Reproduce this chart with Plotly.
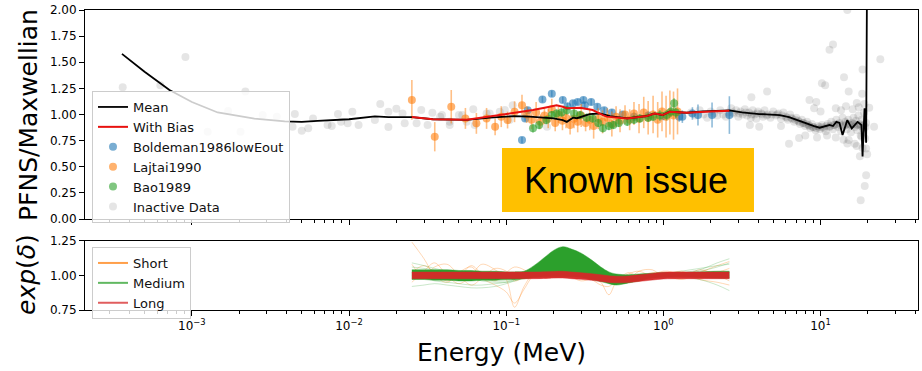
import plotly.graph_objects as go

# ---------------- data ----------------
# Mean curve (E in MeV, PFNS/Maxwellian)
mean_pts = [(3.59e-4, 1.58), (5.0e-4, 1.41), (7.2e-4, 1.234), (1.0e-3, 1.12), (1.46e-3, 1.02),
            (2.5e-3, 0.96), (3.9e-3, 0.935), (5.0e-3, 0.93), (6.3e-3, 0.94), (0.01, 0.955),
            (0.0146, 0.983), (0.0178, 0.975), (0.0226, 0.976), (0.0251, 0.976), (0.0341, 0.955),
            (0.0562, 0.95), (0.079, 0.97), (0.112, 0.985), (0.141, 0.98), (0.2, 0.963),
            (0.229, 0.947), (0.243, 0.93), (0.266, 0.97), (0.282, 0.965), (0.339, 1.005),
            (0.394, 1.01), (0.457, 0.985), (0.589, 0.963), (0.785, 0.986), (0.881, 1.01),
            (0.989, 0.995), (1.096, 1.027), (1.406, 1.017), (1.78, 1.03), (2.63, 1.04),
            (3.16, 1.02), (4.07, 1.005), (5.5, 0.995), (6.3, 0.975), (7.08, 0.947),
            (8.5, 0.90), (9.1, 0.89), (9.86, 0.874), (10.5, 0.885), (11.4, 0.90),
            (12.0, 0.89), (12.6, 0.93), (13.2, 0.92), (13.8, 0.804), (14.8, 0.947),
            (15.8, 0.868), (17.2, 0.93), (18.2, 0.90), (18.5, 0.60), (19.05, 1.06),
            (19.5, 0.73), (19.95, 3.5)]

bias_pts = [(0.0251, 0.976), (0.0341, 0.954), (0.0562, 0.95), (0.0912, 0.995), (0.112, 1.01),
            (0.148, 1.043), (0.182, 1.07), (0.209, 1.088), (0.229, 1.075), (0.243, 1.06),
            (0.295, 1.065), (0.355, 1.043), (0.412, 0.995), (0.436, 0.98), (0.589, 0.963),
            (0.785, 0.986), (0.881, 1.01), (0.989, 0.995), (1.096, 1.027), (1.406, 1.017),
            (2.0, 1.03), (2.63, 1.036)]

# Experimental data: (E, value, error)
boldeman = [(0.126, 0.756, 0.03), (0.132, 0.963, 0.03), (0.137, 1.04, 0.03), (0.17, 1.145, 0.03),
            (0.195, 1.20, 0.03), (0.229, 1.14, 0.03), (0.245, 1.08, 0.03), (0.266, 1.107, 0.03),
            (0.285, 1.12, 0.03), (0.31, 1.14, 0.03), (0.316, 1.09, 0.03), (0.347, 1.12, 0.03),
            (0.38, 1.075, 0.03), (0.42, 1.04, 0.03), (0.47, 1.02, 0.03), (0.55, 1.00, 0.03),
            (0.65, 0.98, 0.04), (0.80, 0.99, 0.04), (1.0, 0.985, 0.04), (1.26, 0.98, 0.05),
            (1.32, 0.98, 0.06), (1.53, 1.01, 0.06), (1.66, 0.995, 0.10), (2.04, 0.995, 0.12),
            (2.63, 0.995, 0.18)]

lajtai = [(0.0251, 1.14, 0.19), (0.0351, 0.788, 0.14), (0.0447, 1.075, 0.16), (0.055, 0.963, 0.10),
          (0.0646, 0.916, 0.10), (0.075, 0.963, 0.10), (0.085, 0.883, 0.08), (0.093, 0.98, 0.10),
          (0.102, 0.947, 0.08), (0.113, 1.027, 0.10), (0.126, 1.09, 0.10), (0.135, 1.00, 0.08),
          (0.145, 0.95, 0.09), (0.155, 1.02, 0.10), (0.165, 0.93, 0.07), (0.175, 0.99, 0.08),
          (0.185, 0.96, 0.09), (0.195, 1.05, 0.10), (0.205, 0.92, 0.08), (0.215, 1.00, 0.08),
          (0.228, 0.94, 0.09), (0.24, 0.97, 0.10), (0.255, 0.90, 0.09), (0.27, 0.96, 0.09),
          (0.285, 0.93, 0.10), (0.30, 0.99, 0.11), (0.32, 0.92, 0.08), (0.34, 0.95, 0.10),
          (0.36, 0.89, 0.12), (0.385, 0.96, 0.10), (0.41, 0.93, 0.11), (0.44, 0.97, 0.09),
          (0.47, 0.91, 0.12), (0.50, 0.98, 0.10), (0.53, 0.94, 0.11), (0.57, 1.00, 0.09),
          (0.61, 0.95, 0.10), (0.65, 1.01, 0.11), (0.70, 0.96, 0.14), (0.75, 1.02, 0.15),
          (0.80, 0.97, 0.16), (0.86, 1.00, 0.18), (0.92, 0.95, 0.17), (0.98, 1.03, 0.19),
          (1.04, 0.98, 0.20), (1.10, 1.02, 0.21), (1.16, 0.99, 0.23), (1.23, 1.03, 0.22)]

bao = [(0.148, 0.868, 0.04), (0.162, 0.90, 0.04), (0.18, 0.947, 0.04), (0.195, 0.995, 0.04),
       (0.209, 1.01, 0.04), (0.225, 1.02, 0.04), (0.243, 1.04, 0.04), (0.27, 1.01, 0.04),
       (0.295, 0.995, 0.04), (0.325, 0.97, 0.04), (0.355, 0.963, 0.04), (0.385, 0.92, 0.04),
       (0.412, 0.868, 0.04), (0.45, 0.89, 0.04), (0.48, 0.90, 0.04), (0.52, 0.92, 0.04),
       (0.589, 0.93, 0.04), (0.65, 0.95, 0.04), (0.708, 0.963, 0.04), (0.80, 0.97, 0.04),
       (0.86, 0.98, 0.04), (0.95, 0.99, 0.05), (1.05, 0.995, 0.05), (1.12, 1.03, 0.05),
       (1.17, 1.107, 0.05), (1.2, 1.02, 0.05)]

inactive = [(3.63e-4, 1.26), (6.3e-4, 1.28), (9.1e-4, 1.55), (1.26e-3, 0.835), (1.70e-3, 1.035),
            (1.82e-3, 0.71), (2.04e-3, 0.835), (2.19e-3, 1.22), (2.82e-3, 0.995), (3.47e-3, 0.98),
            (4.52e-3, 1.005), (4.37e-3, 0.883), (5.0e-3, 0.845), (5.5e-3, 0.868), (5.9e-3, 0.963),
            (7.3e-3, 0.90), (7.76e-3, 0.89), (8.5e-3, 1.005), (8.9e-3, 0.93), (9.8e-3, 0.916),
            (0.0105, 1.027), (0.0115, 0.90), (0.0146, 0.947), (0.0158, 1.10), (0.0178, 1.027),
            (0.0178, 0.88), (0.020, 1.055), (0.0219, 1.01), (0.0226, 0.916), (0.0269, 0.916),
            (0.0288, 1.043), (0.0316, 0.90), (0.0339, 1.017), (0.038, 0.98), (0.039, 0.995),
            (0.0437, 0.90), (0.0437, 0.93), (0.050, 0.995), (0.0525, 0.995), (0.056, 0.93),
            (0.0617, 1.05), (0.063, 0.90), (0.075, 1.01), (0.0785, 1.01), (0.091, 1.027),
            (0.098, 1.043), (0.105, 0.947), (0.11, 1.09), (0.182, 0.883),
            (1.5, 1.02), (1.6, 0.99), (1.7, 1.04), (1.8, 1.0), (1.9, 0.97), (2.0, 1.03),
            (2.1, 1.01), (2.2, 0.99), (2.3, 1.04), (2.4, 1.0), (2.5, 0.98), (2.6, 1.02),
            (2.7, 1.06), (2.8, 1.01), (2.9, 1.04), (3.0, 0.98), (3.1, 1.03), (3.2, 1.00),
            (3.3, 1.05), (3.4, 0.99), (3.5, 1.02), (3.6, 0.97), (3.7, 1.04), (3.8, 1.00),
            (3.9, 0.96), (4.0, 1.03), (4.2, 1.01), (4.3, 0.98), (4.4, 1.04), (4.6, 1.00),
            (4.8, 0.97), (5.0, 1.03), (5.2, 0.99), (5.4, 1.01), (5.6, 0.96), (5.8, 1.02),
            (6.0, 0.98), (6.2, 0.95), (6.4, 1.00), (6.6, 0.96), (6.8, 0.93), (7.0, 0.97),
            (7.2, 0.94), (7.4, 0.91), (7.6, 0.95), (7.8, 0.92), (8.0, 0.89), (8.2, 0.93),
            (8.4, 0.90), (8.6, 0.87), (8.8, 0.91), (9.0, 0.88), (9.3, 0.85), (9.6, 0.89),
            (9.9, 0.86), (10.2, 0.90), (10.5, 0.87), (10.8, 0.84), (11.1, 0.91), (11.4, 0.88),
            (11.7, 0.93), (12.0, 0.86), (12.3, 0.90), (12.6, 0.95), (12.9, 0.88), (13.2, 0.92),
            (13.5, 0.84), (13.8, 0.97), (14.1, 0.89), (14.4, 0.93), (14.7, 0.86), (15.0, 0.95),
            (15.3, 0.90), (15.6, 0.83), (15.9, 0.92), (16.2, 0.97), (16.5, 0.88), (16.8, 0.94),
            (17.1, 0.85), (17.4, 0.99), (17.7, 0.91), (18.0, 0.80), (18.3, 0.95), (18.6, 0.87),
            (18.9, 1.02), (19.2, 0.77), (19.5, 0.92),
            (2.75, 1.02), (3.05, 1.01), (3.35, 1.02), (3.65, 1.00), (3.95, 1.01), (4.25, 1.00),
            (4.55, 0.99), (4.9, 1.00), (5.3, 1.00), (5.7, 0.99), (6.1, 0.97), (6.5, 0.97),
            (6.9, 0.95), (7.3, 0.93), (7.7, 0.92), (8.1, 0.91), (8.5, 0.89), (8.9, 0.88),
            (9.4, 0.87), (9.8, 0.88), (10.3, 0.88), (10.9, 0.89), (11.5, 0.89), (12.1, 0.90),
            (12.7, 0.91), (13.3, 0.90), (13.9, 0.90), (14.5, 0.90), (15.1, 0.91), (15.7, 0.90),
            (16.3, 0.91), (16.9, 0.90), (17.5, 0.90), (18.1, 0.89), (18.7, 0.90), (19.3, 0.88),
            (3.63, 1.165), (4.07, 0.883), (3.55, 0.90), (4.57, 1.22), (5.6, 0.89), (6.3, 0.72),
            (7.3, 0.775), (8.5, 1.14), (9.4, 1.12), (10.2, 1.30), (10.7, 1.28), (11.4, 1.62),
            (12.0, 1.67), (14.1, 1.356), (14.8, 2.0), (15.1, 1.22), (15.1, 0.756), (14.8, 0.724),
            (17.0, 1.11), (17.0, 0.70), (18.4, 1.20), (18.5, 1.43), (17.8, 0.60), (19.5, 0.42),
            (19.1, 0.316), (18.0, 0.18), (19.5, 0.676), (18.2, 0.788), (20.4, 1.065),
            (21.9, 0.883), (24.0, 1.53),
            (9.1, 1.06), (10.0, 1.03), (12.5, 1.06), (13.5, 1.04), (14.5, 1.08), (16.0, 1.05),
            (17.5, 1.07), (19.0, 1.10), (8.0, 0.80), (9.5, 0.78), (11.0, 0.80), (12.5, 0.78),
            (14.0, 0.76), (16.5, 0.72), (18.5, 0.68), (19.8, 0.62)]

# Lower panel: exp(delta) samples on a common energy grid
band_E = [0.0251, 0.03, 0.035, 0.042, 0.05, 0.06, 0.07, 0.085, 0.1, 0.113, 0.13, 0.15, 0.18, 0.2,
          0.229, 0.26, 0.3, 0.35, 0.4, 0.45, 0.5, 0.6, 0.7, 0.85, 1.0, 1.3, 1.7, 2.2, 2.63]
medium_upper = [1.04, 1.04, 1.04, 1.04, 1.035, 1.035, 1.03, 1.03, 1.025, 1.025, 1.03, 1.07, 1.14,
                1.18, 1.207, 1.19, 1.16, 1.11, 1.06, 1.025, 1.01, 1.005, 1.01, 1.015, 1.02, 1.02,
                1.025, 1.03, 1.03]
medium_lower = [0.97, 0.97, 0.965, 0.965, 0.96, 0.96, 0.965, 0.965, 0.97, 0.97, 0.975, 0.985,
                0.99, 0.99, 0.99, 0.99, 0.985, 0.97, 0.955, 0.94, 0.93, 0.945, 0.96, 0.98, 0.985,
                0.99, 0.985, 0.98, 0.98]
long_upper = [1.024] * 12 + [1.026, 1.028, 1.029, 1.024, 1.019, 1.012, 1.004, 0.997, 0.994,
                             0.996, 1.004, 1.014, 1.022, 1.024, 1.024, 1.024, 1.024]
long_lower = [0.976] * 12 + [0.978, 0.980, 0.981, 0.976, 0.971, 0.964, 0.956, 0.949, 0.946,
                             0.948, 0.956, 0.966, 0.974, 0.976, 0.976, 0.976, 0.976]
short_lines = [
    [1.24, 1.12, 1.00, 0.95, 1.02, 1.06, 0.98, 0.93, 0.88, 0.80, 0.90, 1.00, 1.02, 1.01, 1.02,
     1.05, 1.0, 0.97, 0.93, 0.92, 0.96, 1.01, 1.03, 0.99, 1.0, 1.03, 0.98, 1.02, 1.05],
    [1.08, 0.99, 1.06, 1.08, 1.0, 0.93, 0.98, 1.05, 1.03, 0.96, 0.99, 1.02, 0.99, 1.0, 1.03,
     0.99, 0.96, 0.98, 1.02, 0.99, 0.94, 0.97, 1.03, 1.04, 0.99, 0.98, 1.04, 1.00, 0.96],
    [0.95, 1.03, 1.09, 1.0, 0.94, 1.0, 1.08, 1.04, 0.97, 0.77, 0.92, 1.01, 0.98, 0.99, 1.01,
     1.03, 1.01, 0.99, 0.95, 0.86, 0.95, 1.02, 0.99, 1.02, 1.01, 0.97, 1.02, 1.07, 1.10],
    [1.02, 1.07, 1.02, 0.96, 0.99, 1.07, 1.01, 0.96, 1.02, 1.06, 1.04, 0.99, 1.0, 1.01, 0.99,
     1.0, 1.02, 1.05, 1.01, 0.98, 1.0, 0.98, 0.96, 1.0, 1.03, 1.01, 0.97, 0.95, 0.93],
]
medium_lines = [
    [0.92, 0.93, 0.94, 0.93, 0.92, 0.91, 0.91, 0.92, 0.94, 0.96, 0.99, 1.03, 1.08, 1.12, 1.15,
     1.13, 1.09, 1.04, 0.99, 0.96, 0.95, 0.96, 0.97, 0.99, 1.0, 1.01, 1.03, 1.06, 1.09],
    [1.06, 1.05, 1.04, 1.02, 1.0, 0.98, 0.96, 0.95, 0.95, 0.96, 0.98, 1.01, 1.06, 1.10, 1.13,
     1.12, 1.08, 1.03, 0.98, 0.95, 0.94, 0.95, 0.97, 0.99, 1.0, 0.99, 0.97, 0.93, 0.89],
    [1.00, 0.98, 0.96, 0.95, 0.94, 0.93, 0.93, 0.94, 0.95, 0.97, 1.0, 1.04, 1.10, 1.14, 1.16,
     1.15, 1.11, 1.06, 1.0, 0.96, 0.94, 0.95, 0.98, 1.0, 1.01, 1.03, 1.05, 1.07, 1.08],
    [1.09, 1.07, 1.05, 1.03, 1.01, 0.99, 0.97, 0.96, 0.96, 0.97, 0.99, 1.01, 1.03, 1.04, 1.05,
     1.05, 1.03, 1.0, 0.97, 0.95, 0.95, 0.96, 0.98, 1.0, 1.01, 1.02, 1.04, 1.09, 1.12],
]

x_tick_vals = [1e-3, 1e-2, 1e-1, 1, 10]
x_tick_text = ["10<sup>−3</sup>", "10<sup>−2</sup>", "10<sup>−1</sup>", "10<sup>0</sup>", "10<sup>1</sup>"]
y_top_ticks = [0, 0.25, 0.5, 0.75, 1.0, 1.25, 1.5, 1.75, 2.0]
y_bot_ticks = [0.75, 1.0, 1.25]

# ---------------- figure ----------------
FONT = "DejaVu Sans"
BLUE, ORANGE, GREEN, RED = (31, 119, 180), (255, 127, 14), (44, 160, 44), (214, 39, 40)


def rgba(c, a):
    return "rgba(%d,%d,%d,%.3f)" % (c[0], c[1], c[2], a)


fig = go.Figure()

fig.add_trace(go.Scatter(
    x=[p[0] for p in inactive], y=[p[1] for p in inactive], mode="markers",
    marker=dict(size=8, color="rgba(0,0,0,0.10)", line=dict(width=0)),
    name="Inactive Data", legendrank=6, legend="legend", xaxis="x", yaxis="y"))

for data, col, nm, rk in [(boldeman, BLUE, "Boldeman1986lowEout", 3),
                          (lajtai, ORANGE, "Lajtai1990", 4),
                          (bao, GREEN, "Bao1989", 5)]:
    fig.add_trace(go.Scatter(
        x=[p[0] for p in data], y=[p[1] for p in data], mode="markers",
        marker=dict(size=8, color=rgba(col, 0.6), line=dict(width=0)),
        error_y=dict(type="data", array=[p[2] for p in data], color=rgba(col, 0.5),
                     thickness=1.6, width=0),
        name=nm, legendrank=rk, legend="legend", xaxis="x", yaxis="y"))

fig.add_trace(go.Scatter(
    x=[p[0] for p in mean_pts], y=[p[1] for p in mean_pts], mode="lines",
    line=dict(color="black", width=1.8), name="Mean", legendrank=1, legend="legend",
    xaxis="x", yaxis="y"))
fig.add_trace(go.Scatter(
    x=[p[0] for p in bias_pts], y=[p[1] for p in bias_pts], mode="lines",
    line=dict(color="#e8110f", width=2), name="With Bias", legendrank=2, legend="legend",
    xaxis="x", yaxis="y"))

# lower panel
for ln in short_lines:
    fig.add_trace(go.Scatter(x=band_E, y=ln, mode="lines", line=dict(color=rgba(ORANGE, 0.3), width=1, shape="spline"),
                             showlegend=False, hoverinfo="skip", xaxis="x2", yaxis="y2"))
for ln in medium_lines:
    fig.add_trace(go.Scatter(x=band_E, y=ln, mode="lines", line=dict(color=rgba(GREEN, 0.25), width=1, shape="spline"),
                             showlegend=False, hoverinfo="skip", xaxis="x2", yaxis="y2"))
fig.add_trace(go.Scatter(x=band_E, y=medium_lower, mode="lines", line=dict(color=rgba(GREEN, 0.9), width=0.5, shape="spline"),
                         showlegend=False, hoverinfo="skip", xaxis="x2", yaxis="y2"))
fig.add_trace(go.Scatter(x=band_E, y=medium_upper, mode="lines", fill="tonexty", fillcolor=rgba(GREEN, 1.0),
                         line=dict(color=rgba(GREEN, 0.9), width=0.5, shape="spline"),
                         showlegend=False, hoverinfo="skip", xaxis="x2", yaxis="y2"))
fig.add_trace(go.Scatter(x=band_E, y=long_lower, mode="lines", line=dict(color=rgba(RED, 0.95), width=0.5, shape="spline"),
                         showlegend=False, hoverinfo="skip", xaxis="x2", yaxis="y2"))
fig.add_trace(go.Scatter(x=band_E, y=long_upper, mode="lines", fill="tonexty", fillcolor=rgba(RED, 0.95),
                         line=dict(color=rgba(RED, 0.95), width=0.5, shape="spline"),
                         showlegend=False, hoverinfo="skip", xaxis="x2", yaxis="y2"))
for nm, col in [("Short", ORANGE), ("Medium", GREEN), ("Long", RED)]:
    fig.add_trace(go.Scatter(x=[None], y=[None], mode="lines", line=dict(color=rgba(col, 0.75), width=2),
                             name=nm, legend="legend2", xaxis="x2", yaxis="y2"))

minor_vals = [m * 10.0 ** k for k in range(-4, 2) for m in range(2, 10)]
tickfont = dict(size=12, family=FONT, color="black")
axis_common = dict(showline=True, mirror=True, linecolor="black", linewidth=1, showgrid=False,
                   zeroline=False, ticks="outside", ticklen=5, tickwidth=1, tickcolor="black",
                   tickfont=tickfont, automargin=False, ticklabeloverflow="allow")
xcommon = dict(type="log", range=[-3.68, 1.62], tickvals=x_tick_vals, ticktext=x_tick_text,
               minor=dict(tickvals=minor_vals, ticks="outside", ticklen=3, tickwidth=0.8,
                          tickcolor="black", showgrid=False), **axis_common)

fig.update_layout(
    width=922, height=371,
    margin=dict(l=85, r=4, t=10, b=61, autoexpand=False),
    paper_bgcolor="white", plot_bgcolor="white",
    font=dict(family=FONT, color="black"),
    xaxis=dict(anchor="y", showticklabels=False, **xcommon),
    xaxis2=dict(anchor="y2", matches="x", **xcommon),
    yaxis=dict(domain=[0.303, 1.0], range=[0, 2], tickvals=y_top_ticks,
               ticktext=["%.2f" % v for v in y_top_ticks], anchor="x", **axis_common),
    yaxis2=dict(domain=[0.0, 0.231], range=[0.75, 1.25], tickvals=y_bot_ticks,
                ticktext=["%.2f" % v for v in y_bot_ticks], anchor="x2", **axis_common),
    legend=dict(x=0.0084, y=0.73, xanchor="left", yanchor="top", bgcolor="rgba(255,255,255,0.8)",
                bordercolor="#cccccc", borderwidth=1, font=dict(size=13, family=FONT, color="#111"),
                tracegroupgap=0, traceorder="normal"),
    legend2=dict(x=0.0084, y=0.21, xanchor="left", yanchor="top", bgcolor="rgba(255,255,255,0.8)",
                 bordercolor="#cccccc", borderwidth=1, font=dict(size=13, family=FONT, color="#111"),
                 tracegroupgap=0, traceorder="normal"),
    showlegend=True,
    shapes=[dict(type="rect", xref="paper", yref="paper", x0=0.5006, x1=0.8031, y0=0.3267, y1=0.54,
                 fillcolor="#FFC000", line=dict(width=0), layer="above")],
    annotations=[
        dict(text="Known issue", xref="paper", yref="paper", x=0.650, y=0.433, showarrow=False,
             xanchor="center", yanchor="middle", font=dict(size=36, family="Liberation Sans", color="black")),
        dict(text="PFNS/Maxwellian", xref="paper", yref="paper", x=(28 - 85) / 833, y=(310 - 115) / 300,
             textangle=-90, showarrow=False, xanchor="center", yanchor="middle",
             font=dict(size=25, family=FONT, color="black")),
        dict(text="<i>exp</i>(<i>δ</i>)", xref="paper", yref="paper", x=(26 - 85) / 833, y=(310 - 275) / 300,
             textangle=-90, showarrow=False, xanchor="center", yanchor="middle",
             font=dict(size=25, family=FONT, color="black")),
        dict(text="Energy (MeV)", xref="paper", yref="paper", x=0.5, y=(310 - 352) / 300,
             showarrow=False, xanchor="center", yanchor="middle",
             font=dict(size=25, family=FONT, color="black")),
    ],
)

# remove the default 8px page margin so the figure sits at the window's top-left corner
fig.write_html("out.html", config={"displayModeBar": False},
               post_script="document.body.style.margin='0px';document.body.style.overflow='hidden';")
